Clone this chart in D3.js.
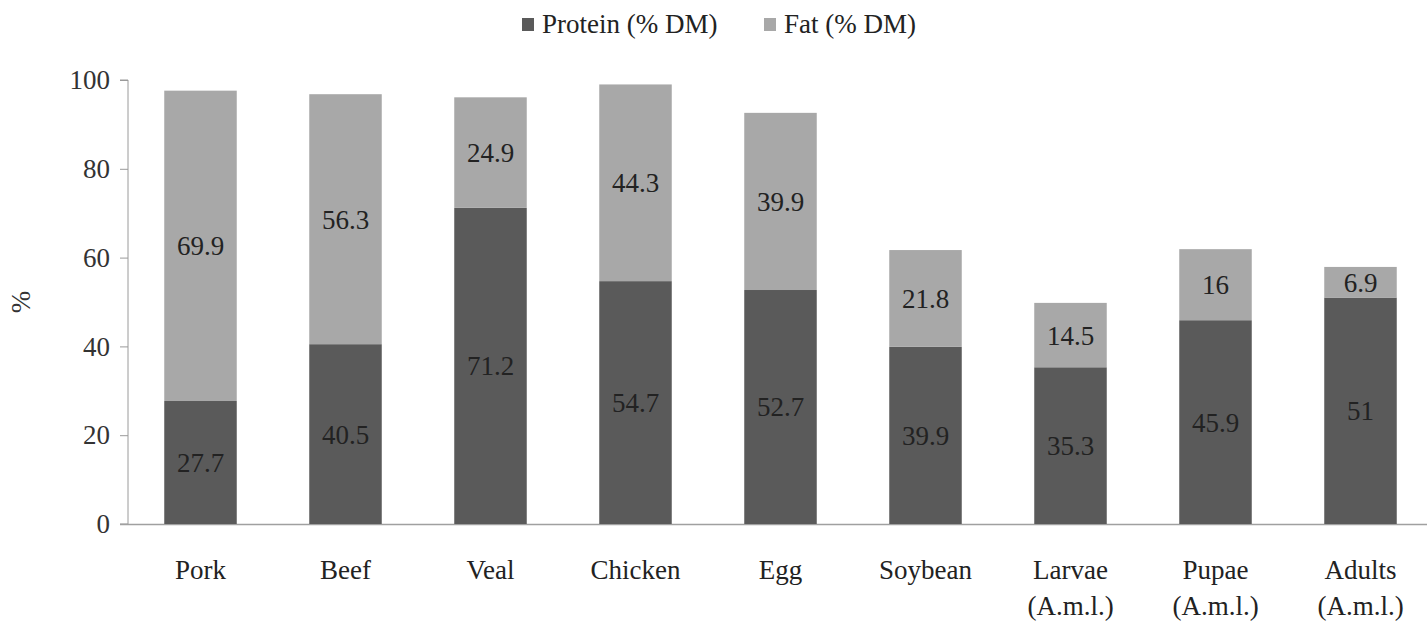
<!DOCTYPE html>
<html><head><meta charset="utf-8">
<script src="https://cdn.jsdelivr.net/npm/d3@7"></script>
</head><body style="margin:0">
<script>
const categories = ["Pork","Beef","Veal","Chicken","Egg","Soybean","Larvae\n(A.m.l.)","Pupae\n(A.m.l.)","Adults\n(A.m.l.)"];
const protein = [27.7,40.5,71.2,54.7,52.7,39.9,35.3,45.9,51];
const fat = [69.9,56.3,24.9,44.3,39.9,21.8,14.5,16,6.9];
const seriesNames = ["Protein (% DM)","Fat (% DM)"];
const yTicks = [0,20,40,60,80,100];

const FONT = "Liberation Serif";
const FS = 27;
const W=1427,H=623;
const svg=d3.select("body").append("svg").attr("width",W).attr("height",H);
const x=d3.scaleBand().domain(categories).range([128,1433]).paddingInner(0.5).paddingOuter(0.25);
const y=d3.scaleLinear().domain([0,100]).range([524,80]);
const colors=["#5a5a5a","#a8a8a8"];

const ya=svg.append("g").attr("transform","translate(128,0)").call(d3.axisLeft(y).tickValues(yTicks).tickSize(8).tickPadding(10));
ya.attr("font-family",FONT).attr("font-size",FS);
ya.select(".domain").attr("stroke","#9a9a9a").attr("d","M-8,80H0V524H-8");
ya.selectAll(".tick line").attr("stroke","#9a9a9a");
ya.selectAll(".tick text").attr("fill","#333");
ya.select(".tick:first-of-type line").remove();

svg.append("line").attr("x1",120).attr("x2",W).attr("y1",524.5).attr("y2",524.5).attr("stroke","#a0a0a0").attr("stroke-width",1.5);

const data=categories.map((c,i)=>({c,p:protein[i],f:fat[i]}));
const g=svg.append("g");
g.selectAll(".p").data(data).join("rect").attr("x",d=>x(d.c)).attr("width",x.bandwidth())
  .attr("y",d=>y(d.p)).attr("height",d=>y(0)-y(d.p)).attr("fill",colors[0]);
g.selectAll(".f").data(data).join("rect").attr("x",d=>x(d.c)).attr("width",x.bandwidth())
  .attr("y",d=>y(d.p+d.f)).attr("height",d=>y(d.p)-y(d.p+d.f)).attr("fill",colors[1]);

const lbl=svg.append("g").attr("font-family",FONT).attr("font-size",FS).attr("fill","#222").attr("text-anchor","middle");
lbl.selectAll(".pl").data(data).join("text").attr("x",d=>x(d.c)+x.bandwidth()/2).attr("y",d=>y(d.p/2))
  .attr("dy","0.35em").text(d=>d.p);
lbl.selectAll(".fl").data(data).join("text").attr("x",d=>x(d.c)+x.bandwidth()/2).attr("y",d=>y(d.p+d.f/2))
  .attr("dy","0.35em").text(d=>d.f);

const cg=svg.append("g").attr("font-family",FONT).attr("font-size",FS).attr("fill","#222").attr("text-anchor","middle");
const cl=cg.selectAll("text").data(categories).join("text")
  .attr("transform",d=>`translate(${x(d)+x.bandwidth()/2},0)`);
cl.each(function(d){
  const lines=d.split("\n");
  d3.select(this).selectAll("tspan").data(lines).join("tspan").attr("x",0).attr("y",(l,i)=>579+i*36).text(l=>l);
});

svg.append("text").attr("transform","translate(30,302) rotate(-90)").attr("text-anchor","middle")
  .attr("font-family",FONT).attr("font-size",FS).attr("fill","#333").text("%");

const leg=[{x:522,t:seriesNames[0],c:colors[0]},{x:764,t:seriesNames[1],c:colors[1]}];
const lg=svg.append("g").attr("font-family",FONT).attr("font-size",FS).selectAll("g").data(leg).join("g");
lg.append("rect").attr("x",d=>d.x).attr("y",18).attr("width",12).attr("height",13).attr("fill",d=>d.c);
lg.append("text").attr("x",d=>d.x+20).attr("y",33).attr("fill","#222").text(d=>d.t);
</script>
</body></html>
